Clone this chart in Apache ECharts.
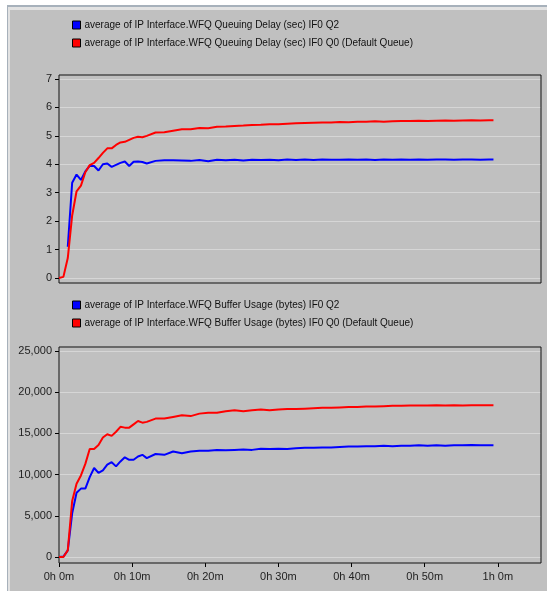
<!DOCTYPE html>
<html>
<head>
<meta charset="utf-8">
<script src="https://cdn.jsdelivr.net/npm/echarts@6/dist/echarts.min.js"></script>
<style>
html,body{margin:0;padding:0;background:#fff;}
#c{width:547px;height:591px;}
</style>
</head>
<body>
<div id="c"></div>
<script>
// time in minutes
var times = [0, 0.6, 1.2, 1.8, 2.4, 3.0, 3.6, 4.2, 4.8, 5.4, 6.0, 6.6, 7.2, 7.8, 8.4, 9.0, 9.6, 10.2, 10.8, 11.4, 12.0,
  13.2, 14.4, 15.6, 16.8, 18.0, 19.2, 20.4, 21.6, 22.8, 24.0, 25.2, 26.4, 27.6, 28.8, 30.0, 31.2, 32.4, 33.6, 34.8, 36.0,
  37.2, 38.4, 39.6, 40.8, 42.0, 43.2, 44.4, 45.6, 46.8, 48.0, 49.2, 50.4, 51.6, 52.8, 54.0, 55.2, 56.4, 57.6, 58.8, 59.4];

var delayQ2Name = 'average of IP Interface.WFQ Queuing Delay (sec) IF0 Q2';
var delayQ0Name = 'average of IP Interface.WFQ Queuing Delay (sec) IF0 Q0 (Default Queue)';
var bufQ2Name = 'average of IP Interface.WFQ Buffer Usage (bytes) IF0 Q2';
var bufQ0Name = 'average of IP Interface.WFQ Buffer Usage (bytes) IF0 Q0 (Default Queue)';

var delayQ2 = [null, null, 1.1, 3.35, 3.64, 3.45, 3.75, 3.94, 3.94, 3.78, 4.0, 4.03, 3.91, 3.98, 4.05, 4.1, 3.94, 4.09, 4.1, 4.08, 4.03,
  4.12, 4.14, 4.14, 4.13, 4.12, 4.15, 4.11, 4.16, 4.14, 4.16, 4.13, 4.16, 4.15, 4.16, 4.14, 4.17, 4.15, 4.17, 4.15, 4.17,
  4.16, 4.16, 4.17, 4.16, 4.17, 4.15, 4.17, 4.16, 4.17, 4.16, 4.17, 4.16, 4.17, 4.17, 4.16, 4.17, 4.17, 4.16, 4.17, 4.17];

var delayQ0 = [0, 0.04, 0.7, 2.2, 3.05, 3.25, 3.72, 3.97, 4.05, 4.22, 4.4, 4.56, 4.56, 4.68, 4.77, 4.79, 4.86, 4.93, 4.97, 4.95, 5.0,
  5.12, 5.13, 5.18, 5.23, 5.23, 5.28, 5.27, 5.32, 5.33, 5.35, 5.36, 5.38, 5.39, 5.41, 5.41, 5.43, 5.44, 5.45, 5.46, 5.47,
  5.47, 5.49, 5.48, 5.5, 5.5, 5.51, 5.5, 5.51, 5.52, 5.52, 5.53, 5.52, 5.53, 5.54, 5.53, 5.54, 5.55, 5.54, 5.55, 5.55];

var bufQ2 = [0, 50, 800, 5300, 7800, 8300, 8300, 9700, 10800, 10200, 10500, 11200, 11500, 11000, 11600, 12100, 11800, 11800, 12200, 12400, 12000,
  12500, 12400, 12800, 12600, 12800, 12900, 12900, 13000, 12950, 13000, 13050, 13000, 13150, 13100, 13150, 13100, 13200, 13250, 13250, 13300,
  13300, 13350, 13400, 13400, 13450, 13450, 13500, 13450, 13500, 13500, 13550, 13500, 13550, 13500, 13550, 13550, 13600, 13550, 13550, 13550];

var bufQ0 = [0, 0, 800, 6800, 8900, 9900, 11300, 13100, 13100, 13600, 14500, 14900, 14700, 15200, 15800, 15700, 15700, 16100, 16500, 16300, 16400,
  16800, 16800, 17000, 17200, 17100, 17400, 17500, 17500, 17700, 17800, 17700, 17800, 17900, 17800, 17900, 17950, 17950, 18000, 18050, 18100,
  18100, 18150, 18200, 18200, 18250, 18250, 18300, 18350, 18350, 18400, 18380, 18400, 18420, 18400, 18420, 18400, 18430, 18420, 18430, 18420];

var xTickValues = [0, 10, 20, 30, 40, 50, 60];
var xTickLabels = ['0h 0m', '0h 10m', '0h 20m', '0h 30m', '0h 40m', '0h 50m', '1h 0m'];

function pairs(vals) {
  var out = [];
  for (var i = 0; i < times.length; i++) {
    if (vals[i] !== null) out.push([times[i], vals[i]]);
  }
  return out;
}

var FONT = 'Liberation Sans';
var XMAX = 65.9;
var gridLineColor = '#d6d6d6';

function frameX(gi, showLabels) {
  return {
    type: 'value', gridIndex: gi, min: 0, max: XMAX, interval: 10,
    axisLine: { show: false },
    splitLine: { show: false },
    axisTick: { show: showLabels, length: 4, lineStyle: { color: '#000' }, customValues: xTickValues },
    axisLabel: {
      show: showLabels, margin: 8, color: '#222', fontFamily: FONT, fontSize: 11,
      customValues: xTickValues,
      formatter: function (v) { var i = xTickValues.indexOf(v); return i >= 0 ? xTickLabels[i] : ''; }
    }
  };
}
function hiddenX(gi) {
  return { type: 'value', gridIndex: gi, min: 0, max: XMAX, interval: 10, show: false, splitLine: { show: false } };
}
function hiddenY(gi) {
  return { type: 'value', gridIndex: gi, min: 0, max: 1, show: false, splitLine: { show: false } };
}
function innerY(gi, max, interval, fmt) {
  return {
    type: 'value', gridIndex: gi, min: 0, max: max, interval: interval,
    axisLine: { show: false },
    axisTick: { show: true, length: 4, lineStyle: { color: '#000' } },
    axisLabel: { margin: 7, color: '#222', fontFamily: FONT, fontSize: 11, formatter: fmt },
    splitLine: { show: true, lineStyle: { color: gridLineColor, width: 1 } }
  };
}
function lineSeries(name, color, xi, yi, vals) {
  return {
    name: name, type: 'line', xAxisIndex: xi, yAxisIndex: yi,
    data: pairs(vals), showSymbol: false, symbol: 'none',
    lineStyle: { color: color, width: 2 }, itemStyle: { color: color },
    animation: false
  };
}

var chart = echarts.init(document.getElementById('c'), null, { renderer: 'canvas' });
chart.setOption({
  backgroundColor: '#ffffff',
  animation: false,
  graphic: [
    { type: 'rect', z: -10, shape: { x: 7, y: 5, width: 540, height: 586 }, style: { fill: '#a7b1bb' } },
    { type: 'rect', z: -9, shape: { x: 8, y: 7, width: 539, height: 584 }, style: { fill: '#e2e2e2' } },
    { type: 'rect', z: -8, shape: { x: 10, y: 10, width: 537, height: 581 }, style: { fill: '#c0c0c0' } }
  ],
  legend: [
    {
      orient: 'vertical', left: 67, top: 13, itemWidth: 8, itemHeight: 8, itemGap: 4, icon: 'rect',
      itemStyle: { borderColor: '#000', borderWidth: 1 },
      textStyle: { fontFamily: FONT, fontSize: 10, color: '#111', lineHeight: 14, padding: [0, 0, 0, -1] },
      data: [delayQ2Name, delayQ0Name]
    },
    {
      orient: 'vertical', left: 67, top: 293, itemWidth: 8, itemHeight: 8, itemGap: 4, icon: 'rect',
      itemStyle: { borderColor: '#000', borderWidth: 1 },
      textStyle: { fontFamily: FONT, fontSize: 10, color: '#111', lineHeight: 14, padding: [0, 0, 0, -1] },
      data: [bufQ2Name, bufQ0Name]
    }
  ],
  grid: [
    { left: 59, top: 75, width: 482, height: 208, show: true, borderColor: '#111', borderWidth: 1, backgroundColor: 'transparent', z: 3 },
    { left: 59, top: 79, width: 482, height: 199, show: false },
    { left: 59, top: 347, width: 482, height: 216, show: true, borderColor: '#111', borderWidth: 1, backgroundColor: 'transparent', z: 3 },
    { left: 59, top: 351, width: 482, height: 206, show: false }
  ],
  xAxis: [frameX(0, false), hiddenX(1), frameX(2, true), hiddenX(3)],
  yAxis: [
    hiddenY(0),
    innerY(1, 7, 1, function (v) { return String(v); }),
    hiddenY(2),
    innerY(3, 25000, 5000, function (v) { return v.toString().replace(/\B(?=(\d{3})+(?!\d))/g, ','); })
  ],
  series: [
    lineSeries(delayQ2Name, '#0000ff', 1, 1, delayQ2),
    lineSeries(delayQ0Name, '#ff0000', 1, 1, delayQ0),
    lineSeries(bufQ2Name, '#0000ff', 3, 3, bufQ2),
    lineSeries(bufQ0Name, '#ff0000', 3, 3, bufQ0)
  ]
});
</script>
</body>
</html>
